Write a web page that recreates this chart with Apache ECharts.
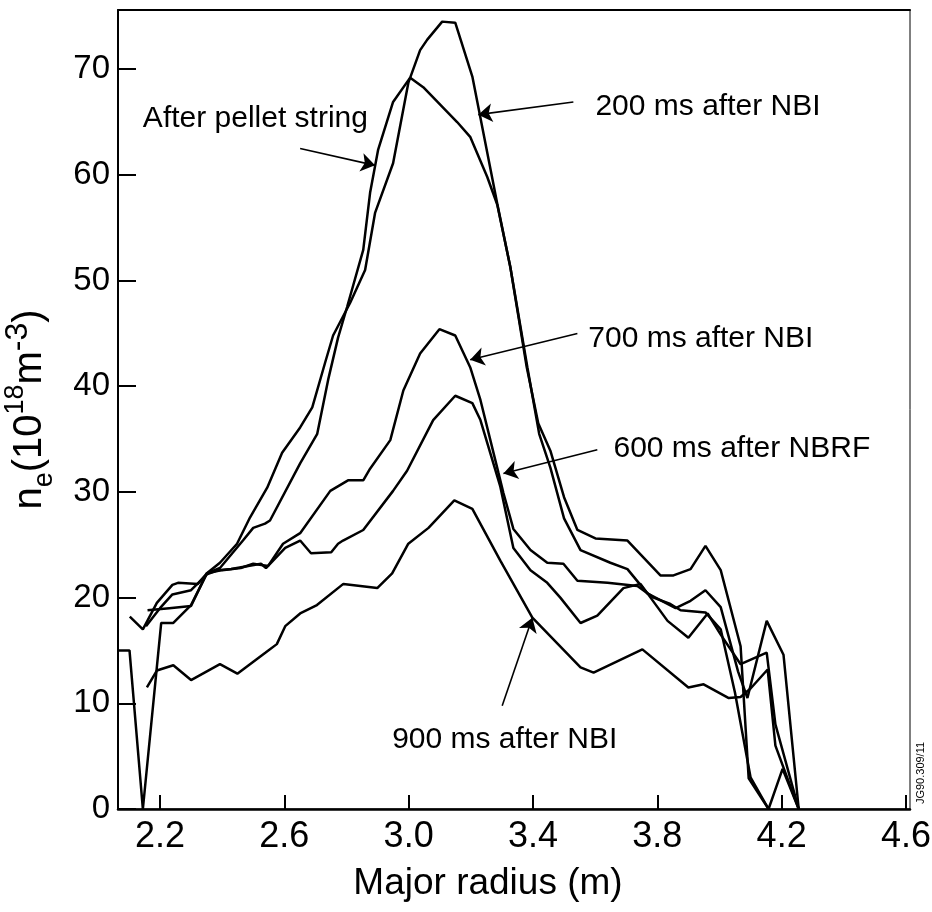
<!DOCTYPE html>
<html>
<head>
<meta charset="utf-8">
<script src="https://cdn.jsdelivr.net/npm/echarts@6/dist/echarts.min.js"></script>
<style>
html, body { margin: 0; padding: 0; background: #fff; }
#main { width: 932px; height: 912px; }
</style>
</head>
<body>
<div id="main"></div>
<script>
// major radius (m) and density n_e (10^18 m^-3) for each profile
var r200 = [2.065, 2.102, 2.145, 2.204, 2.243, 2.300, 2.351, 2.393, 2.448, 2.490, 2.545, 2.593, 2.651, 2.690, 2.731, 2.757, 2.812, 2.860, 2.892, 2.950, 2.999, 3.037, 3.060, 3.108, 3.150, 3.205, 3.285, 3.327, 3.380, 3.417, 3.456, 3.500, 3.543, 3.601, 3.704, 3.810, 3.852, 3.907, 3.955, 4.004, 4.068, 4.094, 4.158];
var ne200 = [15, 15, 0, 17.6, 17.6, 19.3, 22.3, 23.3, 25.1, 27.6, 30.4, 33.7, 36.1, 38.0, 42.2, 44.8, 47.9, 51.0, 56.4, 61.1, 68.7, 71.8, 72.8, 74.5, 74.4, 69.3, 57.3, 51.3, 41.8, 36.5, 33.9, 29.5, 26.4, 25.6, 25.4, 22.1, 22.1, 22.7, 24.9, 22.6, 15.4, 2.9, 0];

var rPellet = [2.103, 2.145, 2.190, 2.240, 2.258, 2.322, 2.351, 2.393, 2.467, 2.500, 2.538, 2.554, 2.651, 2.706, 2.741, 2.773, 2.802, 2.854, 2.876, 2.902, 2.950, 3.005, 3.047, 3.156, 3.198, 3.253, 3.285, 3.327, 3.382, 3.420, 3.456, 3.500, 3.553, 3.649, 3.704, 3.768, 3.859, 3.907, 3.955, 4.004, 4.060, 4.090, 4.152, 4.206, 4.255];
var nePellet = [18.2, 17.0, 19.5, 21.2, 21.4, 21.3, 22.3, 22.8, 25.4, 26.6, 27.0, 27.3, 32.7, 35.5, 40.6, 44.6, 47.5, 52.9, 58.3, 62.4, 66.9, 69.2, 68.3, 65.0, 63.6, 59.8, 57.2, 51.3, 41.8, 35.5, 32.3, 27.5, 24.5, 23.3, 22.7, 20.4, 19.0, 19.7, 20.7, 19.1, 13.0, 10.5, 17.8, 14.6, 0];

var r700 = [2.160, 2.230, 2.300, 2.351, 2.400, 2.460, 2.500, 2.548, 2.596, 2.651, 2.748, 2.805, 2.854, 2.876, 2.941, 2.983, 3.037, 3.099, 3.150, 3.198, 3.231, 3.289, 3.305, 3.337, 3.392, 3.446, 3.498, 3.543, 3.640, 3.736, 3.788, 3.842, 3.875, 3.955, 4.004, 4.050, 4.100, 4.158, 4.203, 4.255];
var ne700 = [18.8, 19.0, 19.2, 22.3, 22.6, 22.8, 23.2, 23.0, 25.1, 26.1, 30.1, 31.1, 31.1, 32.2, 34.9, 39.6, 43.1, 45.4, 44.8, 41.8, 38.7, 31.8, 29.9, 26.5, 24.5, 23.3, 23.2, 21.6, 21.4, 21.1, 20.0, 19.4, 18.8, 18.6, 17.0, 11.0, 3.0, 0, 3.8, 0];

var r600 = [2.155, 2.200, 2.240, 2.300, 2.351, 2.387, 2.429, 2.525, 2.541, 2.603, 2.651, 2.686, 2.751, 2.773, 2.789, 2.854, 2.950, 2.995, 3.079, 3.150, 3.205, 3.231, 3.295, 3.337, 3.392, 3.446, 3.488, 3.553, 3.607, 3.691, 3.746, 3.833, 3.900, 3.962, 4.004, 4.068, 4.152, 4.180, 4.255];
var ne600 = [17.3, 19.0, 20.3, 20.7, 22.2, 22.6, 22.7, 23.2, 22.8, 24.7, 25.4, 24.2, 24.3, 25.1, 25.4, 26.4, 30.1, 32.0, 36.8, 39.1, 38.4, 36.8, 30.5, 24.7, 22.6, 21.4, 20.0, 17.6, 18.3, 20.9, 21.3, 17.8, 16.2, 18.5, 16.5, 13.7, 14.8, 8.0, 0];

var r900 = [2.158, 2.190, 2.243, 2.300, 2.393, 2.449, 2.540, 2.576, 2.603, 2.651, 2.705, 2.790, 2.899, 2.947, 2.999, 3.064, 3.147, 3.205, 3.295, 3.398, 3.553, 3.595, 3.752, 3.900, 3.949, 4.030, 4.068, 4.100, 4.155, 4.180, 4.255];
var ne900 = [11.5, 13.1, 13.6, 12.2, 13.7, 12.8, 14.8, 15.6, 17.3, 18.5, 19.3, 21.3, 20.9, 22.3, 25.1, 26.6, 29.2, 28.4, 23.5, 18.1, 13.4, 12.9, 15.1, 11.5, 11.8, 10.5, 10.6, 11.4, 13.2, 6.0, 0];

var xTicks = [2.2, 2.6, 3.0, 3.4, 3.8, 4.2, 4.6];
var yTicks = [0, 10, 20, 30, 40, 50, 60, 70];

// annotations: label anchor and arrow, in data coordinates
var notes = [
    {text: 'After pellet string', at: [2.145, 65.3], from: [2.651, 62.5], to: [2.892, 60.9]},
    {text: '200 ms after NBI', at: [3.601, 66.4], from: [3.530, 66.9], to: [3.224, 65.7]},
    {text: '700 ms after NBI', at: [3.578, 44.5], from: [3.543, 45.0], to: [3.198, 42.5]},
    {text: '600 ms after NBRF', at: [3.659, 34.1], from: [3.607, 34.0], to: [3.305, 31.75]},
    {text: '900 ms after NBI', at: [2.947, 6.6], from: [3.301, 9.76], to: [3.398, 18.1]}
];

var FONT = '"Liberation Sans", Arial, Helvetica, sans-serif';

var pairs = function (xs, ys) {
    return xs.map(function (x, i) { return [x, ys[i]]; });
};

var curves = [
    {name: '200 ms after NBI', r: r200, ne: ne200},
    {name: 'After pellet string', r: rPellet, ne: nePellet},
    {name: '700 ms after NBI', r: r700, ne: ne700},
    {name: '600 ms after NBRF', r: r600, ne: ne600},
    {name: '900 ms after NBI', r: r900, ne: ne900}
];

var series = curves.map(function (c) {
    return {
        name: c.name,
        type: 'line',
        data: pairs(c.r, c.ne),
        symbol: 'none',
        lineStyle: {color: '#000', width: 2.5},
        itemStyle: {color: '#000'},
        silent: true,
        z: 3
    };
});

series[4].markLine = {
    silent: true,
    symbol: ['none', 'arrow'],
    symbolSize: 14,
    lineStyle: {color: '#000', width: 1.6, type: 'solid'},
    itemStyle: {color: '#000'},
    label: {show: false},
    emphasis: {disabled: true},
    data: notes.map(function (n) {
        return [{coord: n.from}, {coord: n.to}];
    })
};

var chart = echarts.init(document.getElementById('main'));
var option = {
    animation: false,
    backgroundColor: '#fff',
    grid: {
        left: 118, right: 22, top: 10, bottom: 103,
        outerBoundsMode: 'none',
        show: true, borderColor: '#000', borderWidth: 1
    },
    xAxis: [{
        type: 'value',
        min: 2.065,
        max: 4.613,
        name: 'Major radius (m)',
        nameLocation: 'middle',
        nameGap: 56,
        nameTextStyle: {fontSize: 37, color: '#000', fontFamily: FONT, padding: [0, 52, 0, 0]},
        axisLine: {show: true, lineStyle: {color: '#000', width: 2.5}},
        axisTick: {show: true, inside: true, length: 14, customValues: xTicks, lineStyle: {color: '#000', width: 2}},
        axisLabel: {
            customValues: xTicks,
            fontSize: 36, color: '#000', fontFamily: FONT, margin: 10,
            formatter: function (v) { return v.toFixed(1); }
        },
        splitLine: {show: false}
    }, {
        type: 'value',
        position: 'top',
        min: 2.065,
        max: 4.613,
        axisLine: {show: true, lineStyle: {color: '#000', width: 2}},
        axisTick: {show: false},
        axisLabel: {show: false},
        splitLine: {show: false}
    }],
    yAxis: {
        type: 'value',
        min: 0,
        max: 75.6,
        name: '{n|n}{s|e}{n|(10}{p|18}{n|m}{q|-3}{n|)}',
        nameLocation: 'middle',
        nameRotate: 90,
        nameGap: 60,
        nameTextStyle: {
            color: '#000',
            fontFamily: FONT,
            rich: {
                n: {fontSize: 40, lineHeight: 56, fontFamily: FONT, color: '#000'},
                s: {fontSize: 27, lineHeight: 24, verticalAlign: 'bottom', fontFamily: FONT, color: '#000'},
                p: {fontSize: 27, lineHeight: 26, verticalAlign: 'top', fontFamily: FONT, color: '#000'},
                q: {fontSize: 32, lineHeight: 34, verticalAlign: 'top', fontFamily: FONT, color: '#000'}
            }
        },
        axisLine: {show: true, lineStyle: {color: '#000', width: 2}},
        axisTick: {show: true, inside: true, length: 18, customValues: yTicks, lineStyle: {color: '#000', width: 2}},
        axisLabel: {customValues: yTicks, fontSize: 33, color: '#000', fontFamily: FONT, margin: 8},
        splitLine: {show: false}
    },
    series: series
};
chart.setOption(option);

// place the curve labels next to their arrows
var labels = notes.map(function (n) {
    var p = chart.convertToPixel({gridIndex: 0}, n.at);
    return {
        type: 'text',
        x: p[0],
        y: p[1],
        silent: true,
        style: {
            text: n.text,
            fontSize: 30,
            fontFamily: FONT,
            fill: '#000',
            verticalAlign: 'middle'
        }
    };
});
labels.push({
    type: 'text',
    x: 921,
    y: 773,
    rotation: Math.PI / 2,
    silent: true,
    style: {
        text: 'JG90.309/11',
        fontSize: 11,
        fontFamily: FONT,
        fill: '#000',
        align: 'center',
        verticalAlign: 'middle'
    }
});
chart.setOption({graphic: labels});
</script>
</body>
</html>
